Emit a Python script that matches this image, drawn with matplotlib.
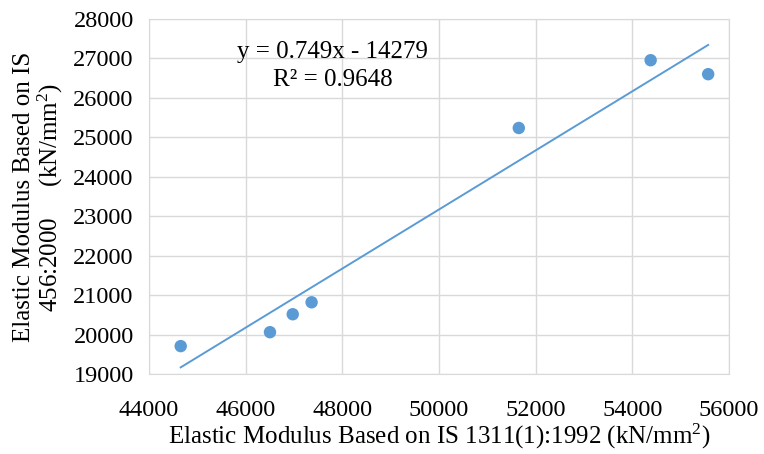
import matplotlib
matplotlib.use("Agg")
import matplotlib.pyplot as plt
import numpy as np

plt.rcParams['font.family'] = ['Liberation Serif', 'DejaVu Serif']
plt.rcParams['mathtext.fontset'] = 'custom'
plt.rcParams['mathtext.rm'] = 'Liberation Serif'
plt.rcParams['mathtext.it'] = 'Liberation Serif:italic'

x_vals = [44656, 46503, 46974, 47364, 51651, 54379, 55569]
y_vals = [19707, 20060, 20515, 20818, 25237, 26955, 26601]
slope = 0.749
intercept = -14279
x_ticks = [44000, 46000, 48000, 50000, 52000, 54000, 56000]
y_ticks = [19000, 20000, 21000, 22000, 23000, 24000, 25000, 26000, 27000, 28000]

fig = plt.figure(figsize=(7.64, 4.54), dpi=100)
ax = fig.add_axes([149/764, 1 - 374/454, 580/764, 355/454])

color = '#5B9BD5'
ax.scatter(x_vals, y_vals, s=80, color=color, zorder=3, edgecolors='none')
xl = np.array([min(x_vals), max(x_vals)])
ax.plot(xl, slope * xl + intercept, color=color, lw=1.4, zorder=2)

ax.set_xlim(44000, 56000)
ax.set_ylim(19000, 28000)
ax.set_xticks(x_ticks)
ax.set_yticks(y_ticks)
ax.tick_params(axis='x', length=0, labelsize=17.5, pad=19)
ax.tick_params(axis='y', length=0, labelsize=17.5, pad=11)
ax.grid(True, color='#d9d9d9', lw=1)
ax.set_axisbelow(True)
for s in ax.spines.values():
    s.set_color('#d9d9d9')

ax.set_xlabel('Elastic Modulus Based on IS 1311(1):1992 (kN/mm$^{2}$)', fontsize=18, labelpad=0)
fig.text(39/764, 1 - 197/454, 'Elastic Modulus Based on IS\n456:2000     (kN/mm$^{2}$)',
         fontsize=18, rotation=90, ha='center', va='center', multialignment='center',
         linespacing=1.0)

ax.text(0.317, 0.907, 'y = 0.749x - 14279', transform=ax.transAxes, ha='center', va='center', fontsize=18)
ax.text(0.317, 0.828, 'R² = 0.9648', transform=ax.transAxes, ha='center', va='center', fontsize=18)

fig.savefig('out.png', dpi=100)
